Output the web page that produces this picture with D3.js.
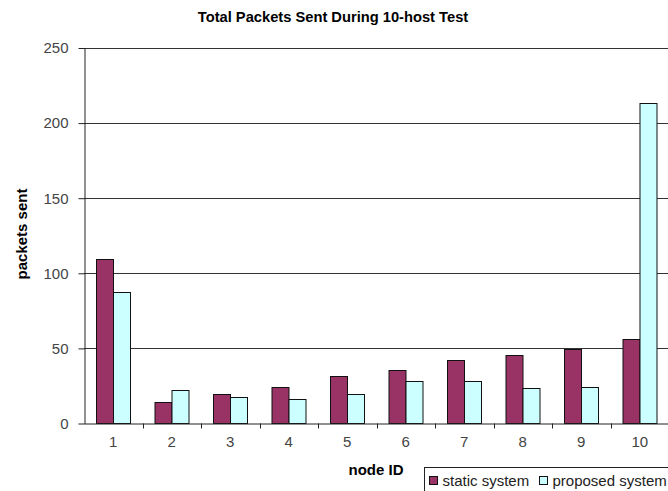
<!DOCTYPE html>
<html>
<head>
<meta charset="utf-8">
<script src="https://cdn.jsdelivr.net/npm/d3@7"></script>
<style>
  html, body { margin: 0; padding: 0; background: #fff; }
  svg { display: block; font-family: "Liberation Sans", Arial, sans-serif; }
</style>
</head>
<body>
<svg id="chart" width="668" height="491"></svg>
<script>
// Packets sent per node during the 10-host test
const nodes = ["1", "2", "3", "4", "5", "6", "7", "8", "9", "10"];
const staticSystem = [109, 14, 19, 24, 31, 35, 42, 45, 49, 56];
const proposedSystem = [87, 22, 17, 16, 19, 28, 28, 23, 24, 213];
const seriesNames = ["static system", "proposed system"];
const seriesColors = ["#993366", "#CCFFFF"];
const yTicks = [0, 50, 100, 150, 200, 250];

const svg = d3.select("#chart");
const margin = { left: 84, right: 669, top: 47.5, bottom: 423 };

const x = d3.scaleBand().domain(nodes).range([margin.left, margin.right]);
// two ~17px bars centred in each band
const xInner = d3.scaleBand().domain(seriesNames)
  .range([x.bandwidth() / 2 - 17.2, x.bandwidth() / 2 + 17.2]);
const y = d3.scaleLinear().domain([0, 250]).range([margin.bottom, margin.top]);

// Title
svg.append("text")
  .attr("x", 333).attr("y", 22)
  .attr("text-anchor", "middle")
  .attr("font-size", 14.7).attr("font-weight", "bold")
  .text("Total Packets Sent During 10-host Test");

// Gridlines
svg.append("g")
  .selectAll("line")
  .data(yTicks.filter(d => d > 0))
  .join("line")
  .attr("x1", margin.left).attr("x2", margin.right)
  .attr("y1", d => Math.round(y(d)) + 0.5).attr("y2", d => Math.round(y(d)) + 0.5)
  .attr("stroke", "#333").attr("stroke-width", 1);

// Bars
const series = [staticSystem, proposedSystem];
const groups = svg.append("g")
  .selectAll("g")
  .data(nodes)
  .join("g")
  .attr("transform", d => `translate(${x(d)},0)`);

groups.selectAll("rect")
  .data((d, i) => seriesNames.map((s, k) => ({ s, v: series[k][i], k })))
  .join("rect")
  .attr("x", d => Math.round(xInner(d.s)) + 0.5)
  .attr("y", d => Math.round(y(d.v)) + 0.5)
  .attr("width", d => Math.round(xInner.bandwidth()))
  .attr("height", d => Math.round(y(0)) - Math.round(y(d.v)))
  .attr("fill", d => seriesColors[d.k])
  .attr("stroke", "#111").attr("stroke-width", 1);

// Y axis
const yAxis = d3.axisLeft(y).tickValues(yTicks).tickSize(6).tickPadding(10).tickSizeOuter(0);
const gy = svg.append("g")
  .attr("transform", `translate(${margin.left + 0.5},0.5)`)
  .call(yAxis);
gy.select(".domain").attr("stroke", "#222");
gy.selectAll(".tick line").attr("stroke", "#222");
gy.selectAll(".tick text").attr("font-size", 15).attr("fill", "#444")
  .attr("font-family", "'Liberation Sans', Arial, sans-serif");

// X axis
const xAxis = d3.axisBottom(x).tickSize(0).tickPadding(13);
const gx = svg.append("g")
  .attr("transform", `translate(0,${Math.round(y(0)) + 0.5})`)
  .call(xAxis);
gx.select(".domain").attr("stroke", "#222");
gx.selectAll(".tick text").attr("font-size", 15).attr("fill", "#444")
  .attr("font-family", "'Liberation Sans', Arial, sans-serif");
// category separators
gx.append("g").selectAll("line")
  .data(nodes.slice(1))
  .join("line")
  .attr("x1", d => Math.round(x(d)) + 0.5).attr("x2", d => Math.round(x(d)) + 0.5)
  .attr("y1", 0).attr("y2", 5)
  .attr("stroke", "#222");

// Axis titles
svg.append("text")
  .attr("transform", "translate(27,234) rotate(-90)")
  .attr("text-anchor", "middle")
  .attr("font-size", 15).attr("font-weight", "bold")
  .text("packets sent");

svg.append("text")
  .attr("x", 376).attr("y", 475)
  .attr("text-anchor", "middle")
  .attr("font-size", 15).attr("font-weight", "bold")
  .text("node ID");

// Legend
const legend = svg.append("g").attr("transform", "translate(424.5,467.5)");
legend.append("rect")
  .attr("x", 0).attr("y", 0).attr("width", 260).attr("height", 30)
  .attr("fill", "#fff").attr("stroke", "#222");
const items = [
  { name: seriesNames[0], color: seriesColors[0], x: 5 },
  { name: seriesNames[1], color: seriesColors[1], x: 115 }
];
const li = legend.selectAll("g.item").data(items).join("g")
  .attr("class", "item")
  .attr("transform", d => `translate(${d.x},0)`);
li.append("rect")
  .attr("x", 0).attr("y", 9).attr("width", 8).attr("height", 8)
  .attr("fill", d => d.color).attr("stroke", "#111");
li.append("text")
  .attr("x", 13).attr("y", 18.5)
  .attr("font-size", 15).attr("fill", "#222")
  .text(d => d.name);
</script>
</body>
</html>
